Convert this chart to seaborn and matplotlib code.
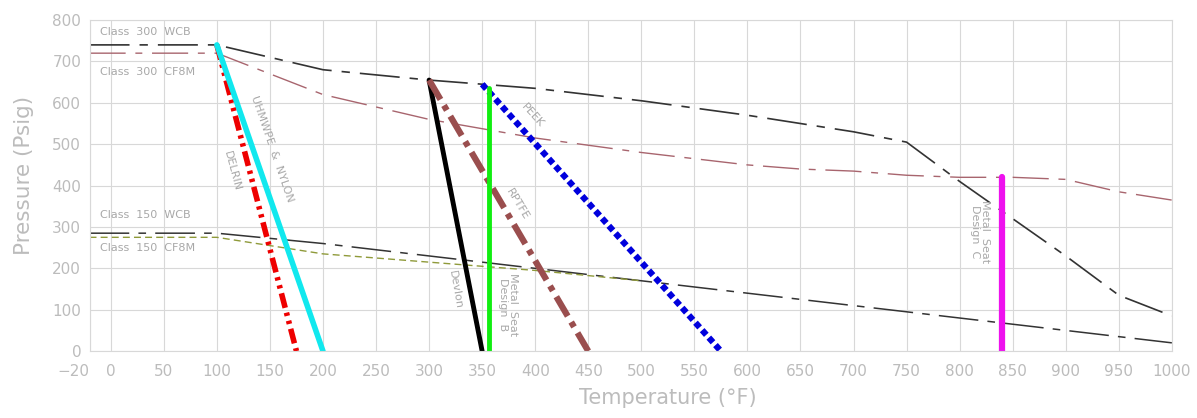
import matplotlib
matplotlib.use("Agg")
import matplotlib.pyplot as plt
import seaborn as sns
import pandas as pd

# ---- data ----
temps_300wcb = [-20, 100, 200, 300, 400, 500, 600, 650, 700, 750, 800, 850, 900, 950, 1000]
p_300wcb = [740, 740, 680, 655, 635, 605, 570, 550, 530, 505, 410, 320, 230, 135, 85]

temps_300cf8m = [-20, 100, 200, 300, 400, 500, 600, 650, 700, 750, 800, 850, 900, 950, 1000]
p_300cf8m = [720, 720, 620, 560, 515, 480, 450, 440, 435, 425, 420, 420, 415, 385, 365]

temps_150wcb = [-20, 100, 200, 300, 400, 500, 600, 650, 700, 750, 800, 850, 900, 950, 1000]
p_150wcb = [285, 285, 260, 230, 200, 170, 140, 125, 110, 95, 80, 65, 50, 35, 20]

temps_150cf8m = [-20, 100, 200, 300, 400, 500]
p_150cf8m = [275, 275, 235, 215, 195, 170]

delrin_t = [100, 175]; delrin_p = [740, 0]
uhmw_t = [100, 200]; uhmw_p = [740, 0]
devlon_t = [300, 350]; devlon_p = [655, 0]
rptfe_t = [300, 450]; rptfe_p = [655, 0]
peek_t = [350, 575]; peek_p = [645, 0]
msb_t = [356, 356]; msb_p = [0, 637]
msc_t = [840, 840]; msc_p = [0, 420]

xticks = [-20, 0, 50, 100, 150, 200, 250, 300, 350, 400, 450, 500, 550, 600,
          650, 700, 750, 800, 850, 900, 950, 1000]
yticks = [0, 100, 200, 300, 400, 500, 600, 700, 800]

sns.set_theme(style="white")
plt.rcParams['font.family'] = ['DejaVu Sans']

fig = plt.figure(figsize=(11.97, 4.18), dpi=100)
ax = fig.add_axes([0.0748, 0.160, 0.9042, 0.792])

def line(t, p, **kw):
    sns.lineplot(x=t, y=p, ax=ax, legend=False, estimator=None, sort=False, **kw)

line(temps_300wcb, p_300wcb, color="#333333", lw=1.2)
ax.lines[-1].set_dashes([24, 6, 5, 6])
line(temps_300cf8m, p_300cf8m, color="#a8656e", lw=1.0)
ax.lines[-1].set_dashes([26, 7, 5, 7])
line(temps_150wcb, p_150wcb, color="#333333", lw=1.1)
ax.lines[-1].set_dashes([26, 6, 5, 6])
line(temps_150cf8m, p_150cf8m, color="#8f9a3a", lw=1.0)
ax.lines[-1].set_dashes([5, 3])

line(delrin_t, delrin_p, color="#ee0000", lw=4)
ax.lines[-1].set_dashes([2.7, 0.9, 0.6, 0.9, 0.6, 0.9])
line(uhmw_t, uhmw_p, color="#11e8ee", lw=4)
line(devlon_t, devlon_p, color="#000000", lw=3.5)
line(rptfe_t, rptfe_p, color="#9a4e4e", lw=4.5)
ax.lines[-1].set_dashes([3.6, 1.1, 0.9, 1.1])
line(peek_t, peek_p, color="#0000dd", lw=4.5)
ax.lines[-1].set_dashes([1, 0.6])
line(msb_t, msb_p, color="#11ee11", lw=3.5)
line(msc_t, msc_p, color="#ee11ee", lw=4.5)

ax.set_xlim(-20, 1000)
ax.set_ylim(0, 800)
ax.set_xticks(xticks)
ax.set_yticks(yticks)
ax.set_xticklabels(["\u221220" if v == -20 else str(v) for v in xticks])
ax.get_xticklabels()[0].set_ha("right")
ax.grid(True, color="#d8d8d8", lw=0.8)
ax.set_axisbelow(True)
for s in ax.spines.values():
    s.set_color("#d8d8d8")
    s.set_linewidth(0.8)
ax.tick_params(axis="both", colors="#bcbcbc", labelsize=11, length=0)
ax.tick_params(axis="x", pad=9)
ax.tick_params(axis="y", pad=6)
ax.set_xlabel("Temperature (\u00b0F)", color="#bcbcbc", fontsize=15)
ax.set_ylabel("Pressure (Psig)", color="#bcbcbc", fontsize=15.5)
ax.xaxis.set_label_coords(0.534, -0.11)
ax.yaxis.set_label_coords(-0.051, 0.53)

tc = "#a8a8a8"
fs = 8
ax.text(-10, 772, "Class  300  WCB", color=tc, fontsize=fs, va="center", ha="left")
ax.text(-10, 675, "Class  300  CF8M", color=tc, fontsize=fs, va="center", ha="left")
ax.text(-10, 328, "Class  150  WCB", color=tc, fontsize=fs, va="center", ha="left")
ax.text(-10, 250, "Class  150  CF8M", color=tc, fontsize=fs, va="center", ha="left")

ax.text(152, 488, "UHMWPE  &  NYLON", color=tc, fontsize=fs, rotation=-71, ha="center", va="center")
ax.text(114, 434, "DELRIN", color=tc, fontsize=fs, rotation=-75, ha="center", va="center")
ax.text(325, 148, "Devlon", color=tc, fontsize=fs, rotation=-80, ha="center", va="center")
ax.text(383, 354, "RPTFE", color=tc, fontsize=fs, rotation=-59, ha="center", va="center")
ax.text(397, 570, "PEEK", color=tc, fontsize=fs, rotation=-48, ha="center", va="center")
ax.text(374, 112, "Metal  Seat\nDesign  B", color=tc, fontsize=fs, rotation=-90,
        ha="center", va="center", linespacing=1.0)
ax.text(819, 289, "Metal  Seat\nDesign  C", color=tc, fontsize=fs, rotation=-90,
        ha="center", va="center", linespacing=1.0)

fig.savefig("out.png", dpi=100, facecolor="white")
